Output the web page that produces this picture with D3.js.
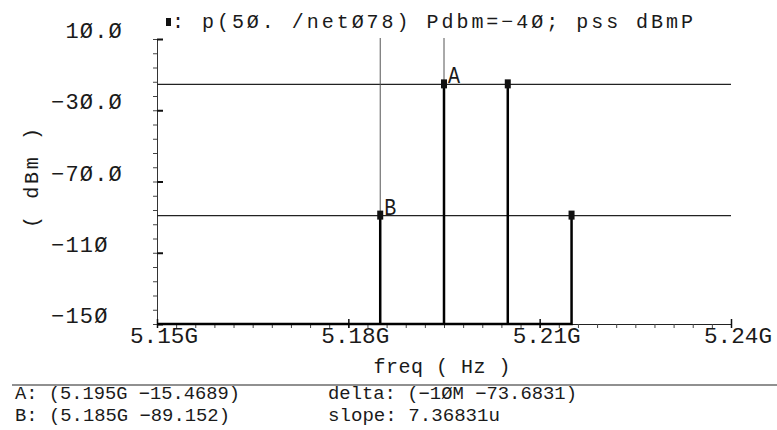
<!DOCTYPE html>
<html>
<head>
<meta charset="utf-8">
<script src="https://cdn.jsdelivr.net/npm/d3@7"></script>
<style>
  body { margin: 0; background: #fff; }
  text { font-family: "Liberation Mono", "DejaVu Sans Mono", monospace; fill: #1a1a1a; }
</style>
</head>
<body>
<div id="chart"></div>
<script>
// harmonic lines of the pss spectrum
var freqGHz = [5.185, 5.195, 5.205, 5.215];
var powerDbm = [-89.152, -15.4689, -15.47, -89.15];

// markers A / B
var markerNames = ["A", "B"];
var markerFreq = [5.195, 5.185];
var markerVal = [-15.4689, -89.152];

var yMajor = [10, -30, -70, -110, -150];
var yLabels = ["\u00A01Ø.Ø", "−3Ø.Ø", "−7Ø.Ø", "−11Ø", "−15Ø"];
var xMajor = [5.15, 5.18, 5.21, 5.24];
var xLabels = ["5.15G", "5.18G", "5.21G", "5.24G"];

var title = ": p(5Ø. /netØ78) Pdbm=−4Ø; pss dBmP";

var width = 777, height = 430;
var svg = d3.select("#chart").append("svg")
    .attr("width", width)
    .attr("height", height)

var x = d3.scaleLinear().domain([5.15, 5.24]).range([157, 731]);
var y = d3.scaleLinear().domain([-150, 10]).range([324, 39]);

function zeros(s) { return s.replace(/0/g, "Ø").replace(/-/g, "−"); }

// ---- axes
var yMinor = d3.range(-150, 10.01, 8);
var xMinor = d3.range(5.15, 5.2401, 0.003);

var yMin = svg.append("g").attr("transform", "translate(" + x(5.15) + ",0)")
    .call(d3.axisLeft(y).tickValues(yMinor).tickSize(4).tickSizeOuter(0).tickFormat(""))
yMin.select(".domain").attr("stroke", "#333")
yMin.selectAll(".tick line").attr("stroke", "#444")

var yMaj = svg.append("g").attr("transform", "translate(" + x(5.15) + ",0)")
    .call(d3.axisLeft(y).tickValues(yMajor).tickSize(7).tickSizeOuter(0).tickFormat(""))
yMaj.select(".domain").remove()
yMaj.selectAll(".tick line").attr("x2", 6).attr("stroke", "#111").attr("stroke-width", 2)

var xMin = svg.append("g").attr("transform", "translate(0," + y(-150) + ")")
    .call(d3.axisBottom(x).tickValues(xMinor).tickSize(4).tickSizeOuter(0).tickFormat(""))
xMin.select(".domain").attr("stroke", "#222")
xMin.selectAll(".tick line").attr("stroke", "#444")

var xMaj = svg.append("g").attr("transform", "translate(0," + y(-150) + ")")
    .call(d3.axisBottom(x).tickValues(xMajor).tickSize(4).tickSizeOuter(0).tickFormat(""))
xMaj.select(".domain").remove()
xMaj.selectAll(".tick line").attr("y1", -5).attr("stroke", "#111").attr("stroke-width", 1.5)

svg.selectAll(".ylab")
    .data(yMajor)
    .enter().append("text")
    .attr("class", "ylab")
    .attr("x", 51)
    .attr("y", d => y(d) - 1)
    .attr("font-size", 22)
    .attr("letter-spacing", 1.2)
    .text((d, i) => yLabels[i])

svg.selectAll(".xlab")
    .data(xMajor)
    .enter().append("text")
    .attr("class", "xlab")
    .attr("x", d => x(d) - 27)
    .attr("y", 343)
    .attr("font-size", 22)
    .attr("textLength", 68)
    .attr("lengthAdjust", "spacingAndGlyphs")
    .text((d, i) => xLabels[i])

// ---- cursor lines
markerNames.forEach(function(n, i) {
  svg.append("line")
      .attr("x1", x.range()[0]).attr("x2", x.range()[1])
      .attr("y1", y(markerVal[i])).attr("y2", y(markerVal[i]))
      .attr("stroke", "#222").attr("stroke-width", 1.2)
  svg.append("line")
      .attr("x1", x(markerFreq[i])).attr("x2", x(markerFreq[i]))
      .attr("y1", y(10) - 1).attr("y2", y(-150))
      .attr("stroke", "#555").attr("stroke-width", 1)
})

// ---- trace (spectral stems along the floor)
var pts = [[x(5.15), y(-150)]];
freqGHz.forEach(function(f, i) {
  pts.push([x(f), y(-150)], [x(f), y(powerDbm[i])], [x(f), y(-150)]);
})
svg.append("path")
    .attr("d", d3.line()(pts))
    .attr("fill", "none")
    .attr("stroke", "#000")
    .attr("stroke-width", 2.5)

svg.selectAll(".pt")
    .data(freqGHz)
    .enter().append("rect")
    .attr("class", "pt")
    .attr("x", d => x(d) - 3)
    .attr("y", (d, i) => y(powerDbm[i]) - 5)
    .attr("width", 6)
    .attr("height", 9)
    .attr("fill", "#111")

svg.selectAll(".mk")
    .data(markerNames)
    .enter().append("text")
    .attr("class", "mk")
    .attr("x", (d, i) => x(markerFreq[i]) + 4)
    .attr("y", (d, i) => y(markerVal[i]) - 1)
    .attr("font-family", "Liberation Sans")
    .attr("font-size", 24)
    .attr("textLength", 12)
    .attr("lengthAdjust", "spacingAndGlyphs")
    .text(d => d)

// ---- title
svg.append("rect").attr("x", 166).attr("y", 18).attr("width", 5).attr("height", 8).attr("fill", "#111")
svg.append("text")
    .attr("x", 172).attr("y", 28)
    .attr("font-size", 20)
    .attr("textLength", 521)
    .attr("lengthAdjust", "spacing")
    .text(title)

// ---- axis titles
svg.append("text")
    .attr("transform", "translate(38,178) rotate(-90)")
    .attr("text-anchor", "middle")
    .attr("font-size", 20)
    .attr("textLength", 100)
    .attr("lengthAdjust", "spacing")
    .text("( dBm )")

svg.append("text")
    .attr("x", 442).attr("y", 373)
    .attr("text-anchor", "middle")
    .attr("font-size", 20)
    .attr("textLength", 137)
    .attr("lengthAdjust", "spacing")
    .text("freq ( Hz )")

svg.append("line")
    .attr("x1", 12).attr("x2", 777)
    .attr("y1", 385).attr("y2", 385)
    .attr("stroke", "#222").attr("stroke-width", 1.2)

// ---- marker readout
var dF = (markerFreq[1] - markerFreq[0]) * 1000;
var dV = +(markerVal[1] - markerVal[0]).toFixed(4);
var slope = +(dV / dF).toFixed(5);
var readout = [
  {t: "A: (" + markerFreq[0] + "G " + zeros(String(markerVal[0])) + ")", x: 15, y: 399, w: 225},
  {t: "B: (" + markerFreq[1] + "G " + zeros(String(markerVal[1])) + ")", x: 15, y: 421, w: 215},
  {t: "delta: (" + zeros(Math.round(dF) + "M " + dV) + ")", x: 328, y: 399, w: 249},
  {t: "slope: " + slope + "u", x: 328, y: 421, w: 172}
];
svg.selectAll(".ro")
    .data(readout)
    .enter().append("text")
    .attr("class", "ro")
    .attr("x", d => d.x)
    .attr("y", d => d.y)
    .attr("font-size", 18)
    .attr("textLength", d => d.w)
    .attr("lengthAdjust", "spacingAndGlyphs")
    .text(d => d.t)
</script>
</body>
</html>
